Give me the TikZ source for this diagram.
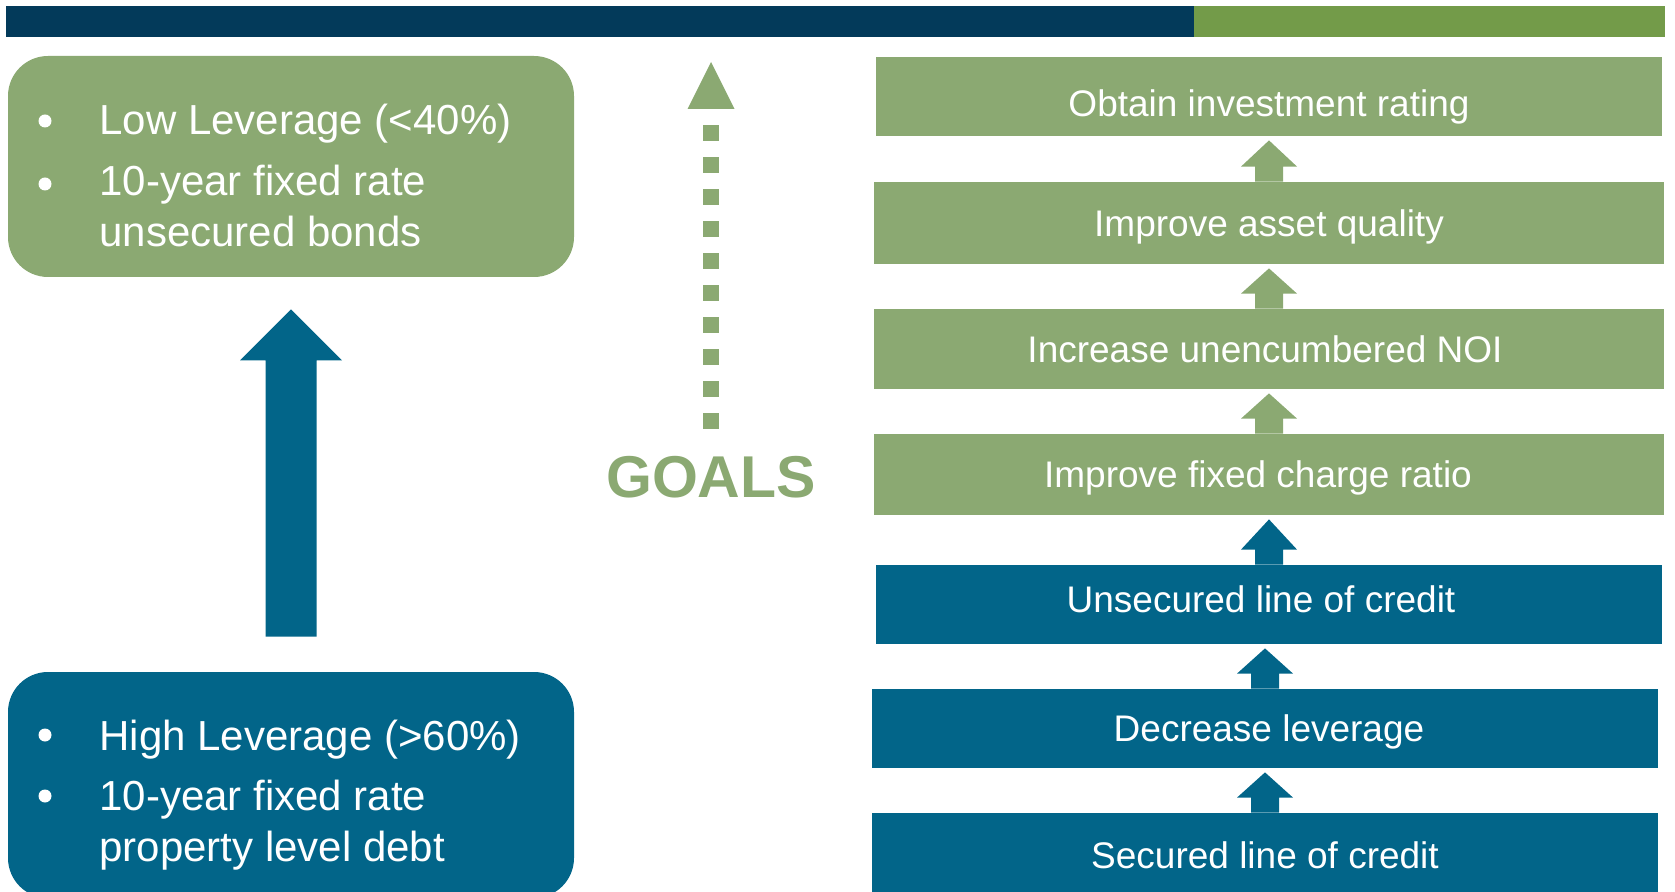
\documentclass[tikz,border=0pt]{standalone}
\usepackage{fontspec}
\setmainfont{Liberation Sans}
\usetikzlibrary{calc}

\definecolor{navybar}{HTML}{033A5A}
\definecolor{greenbar}{HTML}{739B49}
\definecolor{sage}{HTML}{8BA972}
\definecolor{debtblue}{HTML}{026589}

% small block arrow from the top of one step box up to the next one
\newcommand\stackarrow[3]{%
  \fill[#1] let \p1=(#2.north), \p2=(#3.south) in
    (\x1-7pt,\y1) -- (\x1-7pt,\y1+7.5pt) -- (\x1-14pt,\y1+7.5pt)
    -- (\x1,\y2-2pt) -- (\x1+14pt,\y1+7.5pt) -- (\x1+7pt,\y1+7.5pt)
    -- (\x1+7pt,\y1) -- cycle;}

\begin{document}
\begin{tikzpicture}[x=0.5pt,y=-0.5pt,
  stepbox/.style={rectangle, inner sep=0pt, minimum width=393pt, minimum height=39.5pt},
  steplabel/.style={inner sep=0pt, text=white, font=\fontsize{18.5}{22}\selectfont,
    text height=16pt, text depth=3pt},
  sidebox/.style={rectangle, rounded corners=20pt, inner sep=0pt, minimum width=283pt},
  sideline/.style={anchor=base west, inner sep=0pt, text=white, font=\fontsize{21}{25}\selectfont},
  bulletdot/.style={white},
  goaldash/.style={sage, line width=8pt, dash pattern=on 8pt off 8pt}]

\useasboundingbox (0,0) rectangle (1675,892);

% header bar
\fill[navybar] (6,6) rectangle (1194,37.3);
\fill[greenbar] (1194,6) rectangle (1665,37.3);

% left column: current and target capital structure
\node[sidebox, fill=sage, minimum height=110.5pt] (lg) at (291,166.5) {};
\node[sidebox, fill=debtblue, minimum height=113pt] (lb) at (291,785) {};

\fill[bulletdot] (45,121) circle[radius=3.25pt];
\fill[bulletdot] (45,184) circle[radius=3.25pt];
\node[sideline] (lg1) at (99,135) {Low Leverage (<40\%)};
\node[sideline] (lg2) at (99,196) {10-year fixed rate};
\node[sideline] (lg3) at (99,247) {unsecured bonds};

\fill[bulletdot] (45,735) circle[radius=3.25pt];
\fill[bulletdot] (45,796) circle[radius=3.25pt];
\node[sideline] (lb1) at (99,750) {High Leverage (>60\%)};
\node[sideline] (lb2) at (99,810) {10-year fixed rate};
\node[sideline] (lb3) at (99,861) {property level debt};

% large arrow from high to low leverage
\fill[debtblue] let \p1=(lb.north), \p2=(lg.south) in
  (\x1-12.75pt,\y1+17.5pt) -- (\x1-12.75pt,\y2-41.5pt) -- (\x1-25.5pt,\y2-41.5pt)
  -- (\x1,\y2-16pt) -- (\x1+25.5pt,\y2-41.5pt) -- (\x1+12.75pt,\y2-41.5pt)
  -- (\x1+12.75pt,\y1+17.5pt) -- cycle;

% goals marker
\node[anchor=base, inner sep=0pt, text=sage, font=\fontsize{29.5}{32}\selectfont\bfseries]
  (goals) at (711,498) {GOALS};
\coordinate (dotlow) at (711,429);
\coordinate (dothigh) at (711,125);
\coordinate (goaltip) at (711,62);
\draw[goaldash] (dotlow) -- (dothigh);
\fill[sage] (687.5,109) -- (goaltip) -- (734.5,109) -- cycle;

% right column: step boxes
\node[stepbox, fill=sage, minimum width=393pt, minimum height=39.5pt] (g1) at (1269,96.5) {};
\node[stepbox, fill=sage, minimum width=395pt, minimum height=41pt] (g2) at (1269,223) {};
\node[stepbox, fill=sage, minimum width=395pt, minimum height=40pt] (g3) at (1269,349) {};
\node[stepbox, fill=sage, minimum width=395pt, minimum height=40.5pt] (g4) at (1269,474.5) {};
\node[stepbox, fill=debtblue] (b5) at (1269,604.5) {};
\node[stepbox, fill=debtblue] (b6) at (1265,728.5) {};
\node[stepbox, fill=debtblue, minimum height=41pt] (b7) at (1265,854) {};

\node[steplabel, yshift=-3.5pt] (g1t) at (g1) {Obtain investment rating};
\node[steplabel, yshift=-0.5pt] (g2t) at (g2) {Improve asset quality};
\node[steplabel, xshift=-2pt, yshift=-0.5pt] (g3t) at (g3) {Increase unencumbered NOI};
\node[steplabel, xshift=-5.5pt] (g4t) at (g4) {Improve fixed charge ratio};
\node[steplabel, xshift=-4pt, yshift=2.5pt] (b5t) at (b5) {Unsecured line of credit};
\node[steplabel, xshift=2pt] (b6t) at (b6) {Decrease leverage};
\node[steplabel, yshift=-0.5pt] (b7t) at (b7) {Secured line of credit};

% arrows between the steps
\stackarrow{sage}{g2}{g1}
\stackarrow{sage}{g3}{g2}
\stackarrow{sage}{g4}{g3}
\stackarrow{debtblue}{b5}{g4}
\stackarrow{debtblue}{b6}{b5}
\stackarrow{debtblue}{b7}{b6}

\end{tikzpicture}
\end{document}
